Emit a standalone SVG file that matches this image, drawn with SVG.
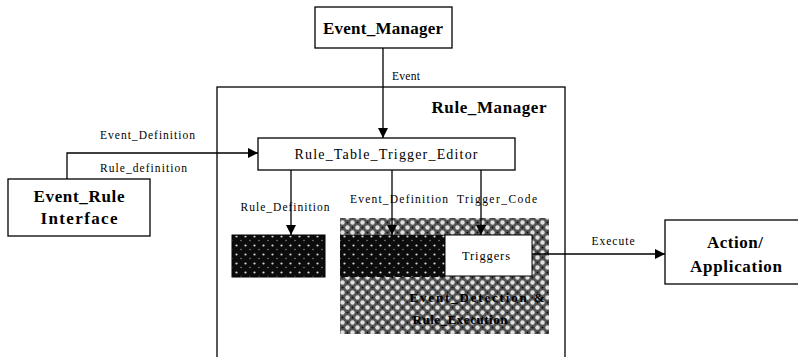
<svg xmlns="http://www.w3.org/2000/svg" width="798" height="357" viewBox="0 0 798 357" font-family="'Liberation Serif', 'DejaVu Serif', 'Times New Roman', Times, serif">
  <style>
    .box { fill: #ffffff; stroke: #000000; stroke-width: 1.3; }
    .title { font-weight: bold; font-size: 17px; text-anchor: middle; }
    .plain { font-size: 14px; text-anchor: middle; }
    .label { font-size: 11.5px; }
    .mid { text-anchor: middle; }
    .inner { font-weight: bold; font-size: 13px; text-anchor: middle; }
    .wire { fill: none; stroke: #000000; stroke-width: 1.3; marker-end: url(#arrow); }
  </style>
  <defs>
    <marker id="arrow" viewBox="0 0 10 10" refX="10" refY="5" markerWidth="10" markerHeight="10" markerUnits="userSpaceOnUse" orient="auto">
      <path d="M0,0 L10,5 L0,10 z" fill="#000"/>
    </marker>
    <!-- mid-grey halftone with white blobs -->
    <pattern id="halftone" width="10" height="10" patternUnits="userSpaceOnUse">
      <rect width="10" height="10" fill="#555555"/>
      <circle cx="2.5" cy="2.5" r="2.2" fill="#e0e0e0"/>
      <circle cx="7.5" cy="7.5" r="2.2" fill="#e0e0e0"/>
      <circle cx="7.5" cy="2.5" r="1" fill="#111"/>
      <circle cx="2.5" cy="7.5" r="1" fill="#111"/>
    </pattern>
    <!-- near-black fill with sparse light specks -->
    <pattern id="darkdots" width="9" height="9" patternUnits="userSpaceOnUse">
      <rect width="9" height="9" fill="#0c0c0c"/>
      <circle cx="2.5" cy="2.5" r="1.1" fill="#d8d8d8"/>
      <circle cx="7" cy="6.5" r="0.7" fill="#9a9a9a"/>
    </pattern>
  </defs>

  <rect width="798" height="357" fill="#ffffff"/>

  <g id="rule-manager">
    <rect class="box" x="217" y="87" width="348" height="275"/>
    <text class="title" x="489" y="113" textLength="115" lengthAdjust="spacing">Rule_Manager</text>
  </g>

  <g id="event-manager">
    <rect class="box" x="315" y="7" width="137" height="41"/>
    <text class="title" x="383" y="34" textLength="120" lengthAdjust="spacing">Event_Manager</text>
  </g>

  <g id="rule-table-trigger-editor">
    <rect class="box" x="258" y="138" width="257" height="32"/>
    <text class="plain" x="386" y="159" textLength="183" lengthAdjust="spacing">Rule_Table_Trigger_Editor</text>
  </g>

  <g id="event-rule-interface">
    <rect class="box" x="8" y="179" width="142" height="57"/>
    <text class="title" x="79" y="202" textLength="91" lengthAdjust="spacing">Event_Rule</text>
    <text class="title" x="79" y="224" textLength="77" lengthAdjust="spacing">Interface</text>
  </g>

  <g id="rule-store">
    <rect x="232" y="235" width="93" height="42" fill="url(#darkdots)" stroke="#000" stroke-width="1"/>
  </g>

  <g id="event-detection">
    <rect x="340" y="218" width="209" height="116" fill="url(#halftone)"/>
    <rect x="340" y="235" width="105" height="42" fill="url(#darkdots)"/>
    <text class="inner" x="477" y="302" textLength="135" lengthAdjust="spacing">Event_Detection &amp;</text>
    <text class="inner" x="460" y="324" textLength="95" lengthAdjust="spacing">Rule_Execution</text>
  </g>

  <g id="triggers">
    <rect x="445" y="235" width="87" height="41" fill="#ffffff" stroke="#000" stroke-width="1"/>
    <text class="plain" x="486" y="260" style="font-size:12.5px" textLength="48" lengthAdjust="spacing">Triggers</text>
  </g>

  <g id="action-application">
    <rect class="box" x="665" y="220" width="140" height="64"/>
    <text class="title" x="735" y="248" textLength="56" lengthAdjust="spacing">Action/</text>
    <text class="title" x="736" y="272" textLength="92" lengthAdjust="spacing">Application</text>
  </g>

  <g id="connectors">
    <path class="wire" d="M383,48 V138"/>
    <path class="wire" d="M67,179 V153 H258"/>
    <path class="wire" d="M291,170 V235"/>
    <path class="wire" d="M392,170 V235"/>
    <path class="wire" d="M481,170 V235"/>
    <path class="wire" d="M532,254 H665"/>
    <text class="label" x="392" y="80" textLength="28" lengthAdjust="spacing">Event</text>
    <text class="label" x="100" y="139" textLength="95" lengthAdjust="spacing">Event_Definition</text>
    <text class="label" x="100" y="172" textLength="87" lengthAdjust="spacing">Rule_definition</text>
    <text class="label mid" x="285" y="211" textLength="89" lengthAdjust="spacing">Rule_Definition</text>
    <text class="label mid" x="399" y="203" textLength="98" lengthAdjust="spacing">Event_Definition</text>
    <text class="label mid" x="497" y="203" textLength="80" lengthAdjust="spacing">Trigger_Code</text>
    <text class="label mid" x="613" y="245" textLength="43" lengthAdjust="spacing">Execute</text>
  </g>
</svg>
